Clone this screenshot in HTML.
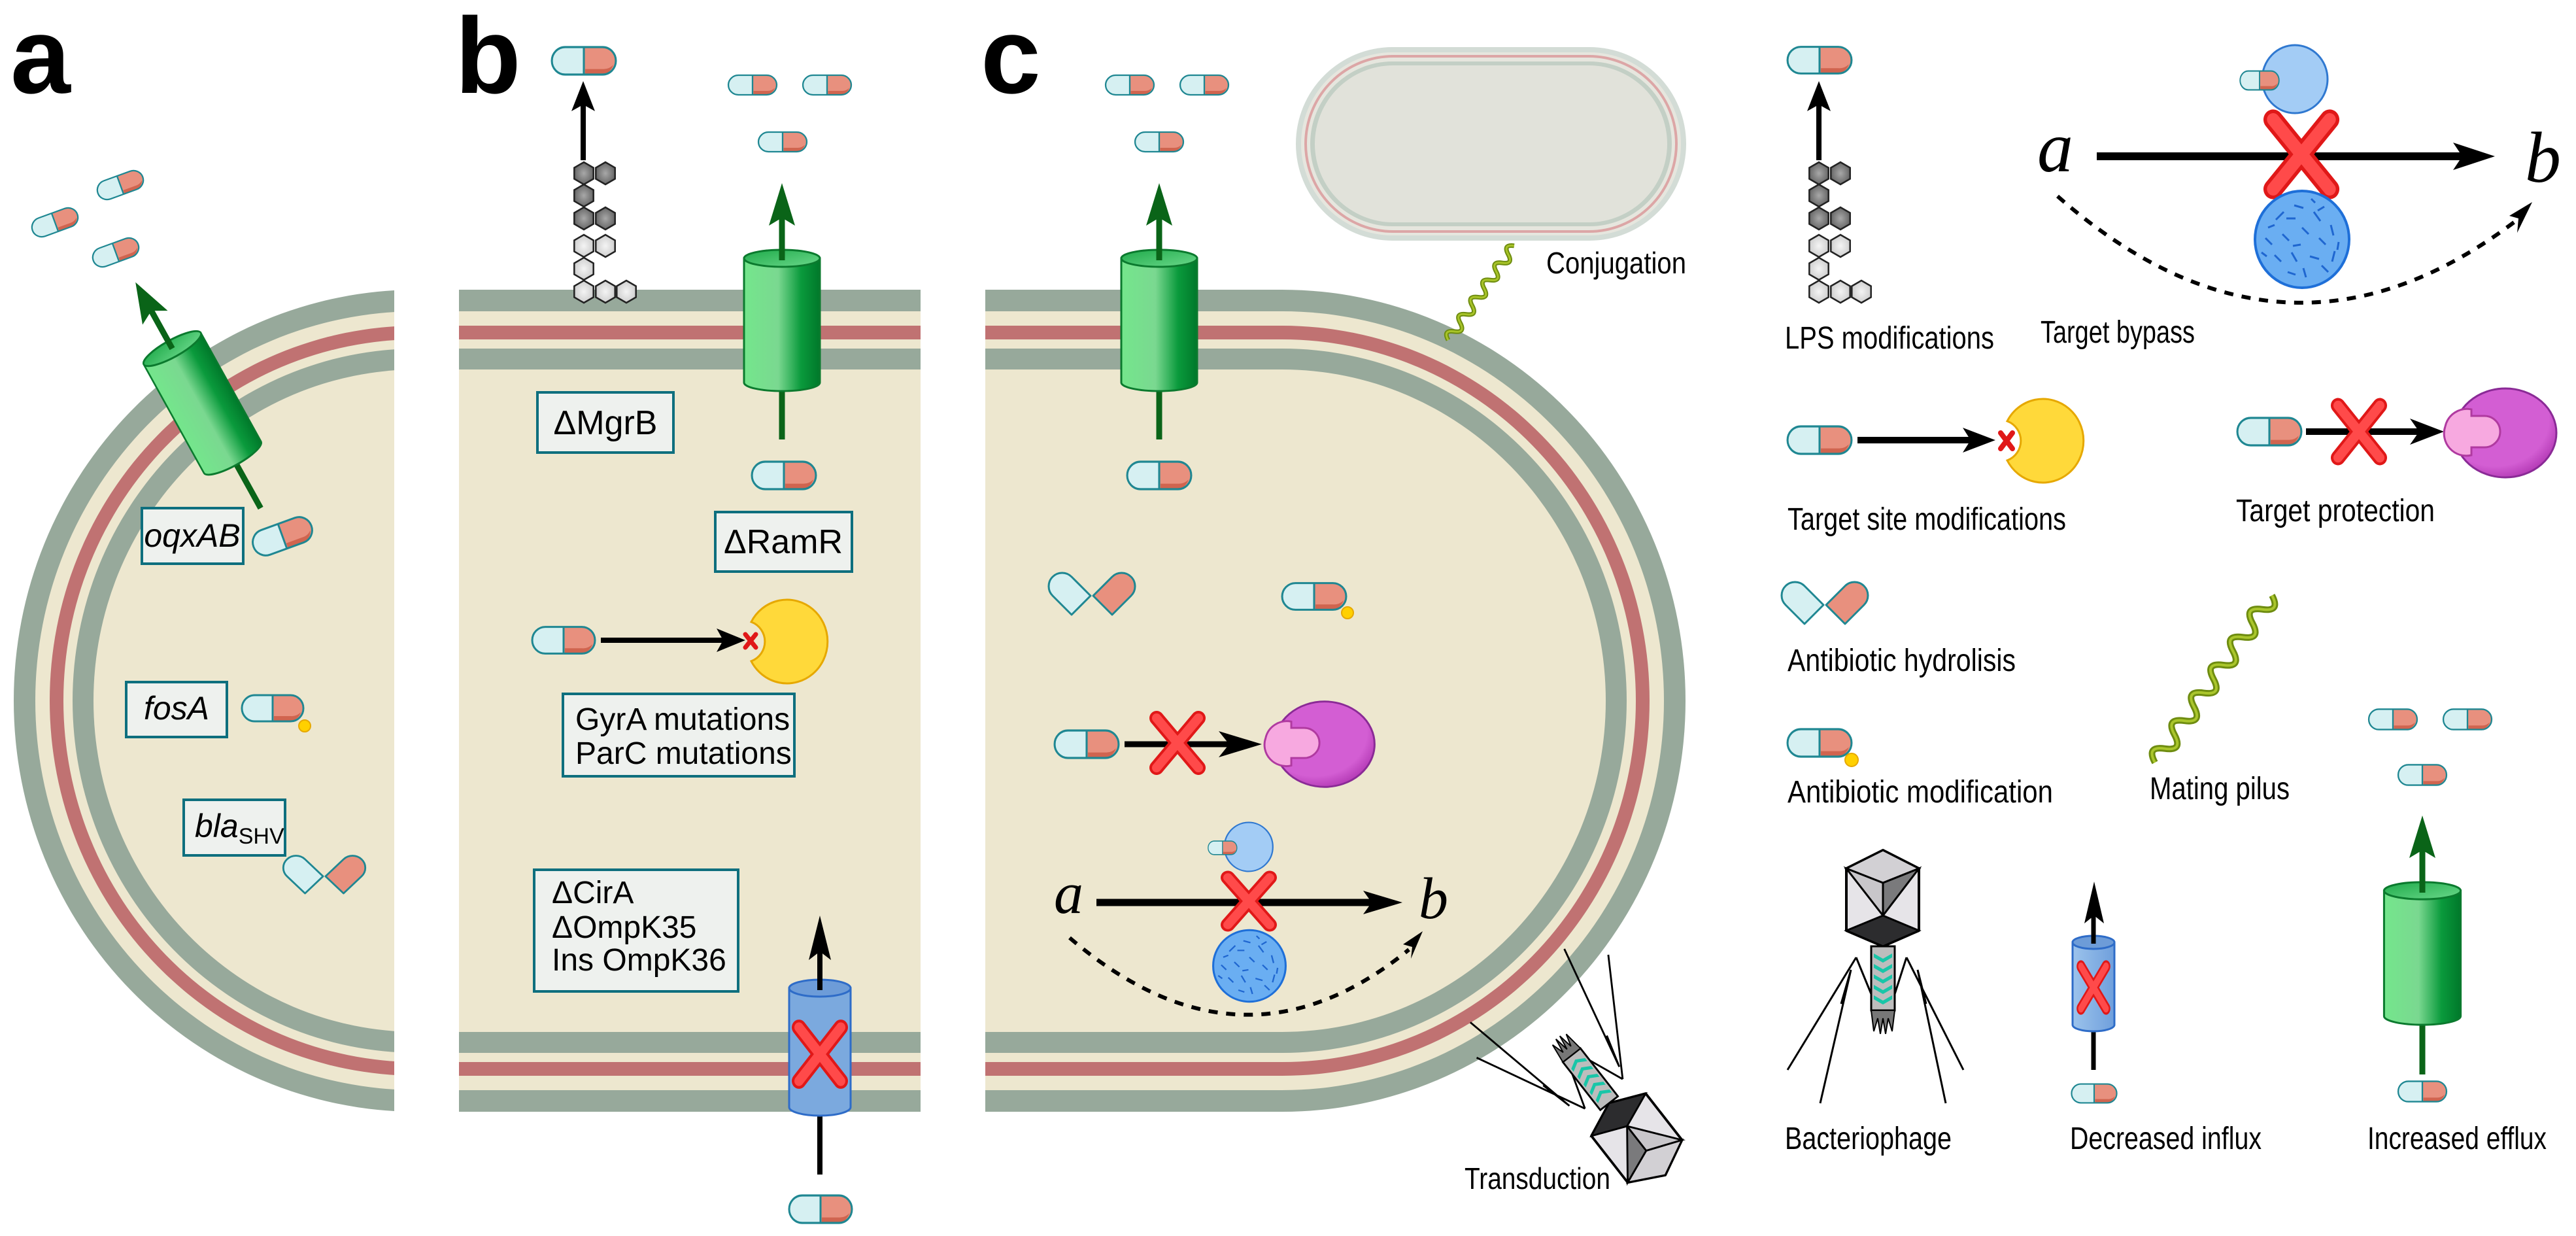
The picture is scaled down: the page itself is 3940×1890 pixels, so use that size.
<!DOCTYPE html>
<html><head><meta charset="utf-8"><style>html,body{margin:0;padding:0;background:#fff}svg{display:block}</style></head>
<body>
<svg width="3940" height="1890" viewBox="0 0 3940 1890" xmlns="http://www.w3.org/2000/svg" font-family="Liberation Sans, sans-serif">
<defs>
<linearGradient id="gg" x1="0" x2="1" y1="0" y2="0"><stop offset="0" stop-color="#74e68c"/><stop offset="0.45" stop-color="#7ad890"/><stop offset="0.75" stop-color="#0a9a3c"/><stop offset="1" stop-color="#00782a"/></linearGradient>
<linearGradient id="gt" x1="0" x2="1" y1="0" y2="1"><stop offset="0" stop-color="#1faa4a"/><stop offset="1" stop-color="#6ad88a"/></linearGradient>
<linearGradient id="bg" x1="0" x2="1"><stop offset="0" stop-color="#9cc3ec"/><stop offset="1" stop-color="#6f9fdc"/></linearGradient>
<radialGradient id="hd" cx="0.5" cy="0.5" r="0.6"><stop offset="0" stop-color="#a8a8a8"/><stop offset="1" stop-color="#5a5a5a"/></radialGradient>
<radialGradient id="hl" cx="0.5" cy="0.5" r="0.6"><stop offset="0" stop-color="#f4f4f4"/><stop offset="1" stop-color="#c8c8c8"/></radialGradient>
<radialGradient id="pg" cx="0.4" cy="0.35" r="0.75"><stop offset="0.7" stop-color="#d35ed3"/><stop offset="1" stop-color="#a62aa8"/></radialGradient>
<clipPath id="clipA"><rect x="0" y="0" width="603" height="1890"/></clipPath>
<g id="pill">
<path d="M0,-20 H-28 A20,20 0 0 0 -28,20 H0Z" fill="#d6f0f2"/>
<path d="M0,-20 H28 A20,20 0 0 1 28,20 H0Z" fill="#e8907e"/>
<path d="M2,12 H28 A20,20 0 0 0 44,6 A20,20 0 0 1 28,20 H2Z" fill="#d0644f"/>
<rect x="-48" y="-20" width="96" height="40" rx="20" fill="none" stroke="#1f8792" stroke-width="3"/>
<line x1="0" y1="-20" x2="0" y2="20" stroke="#1f8792" stroke-width="3"/>
</g>
<g id="hydro">
<path d="M-2,0 L-31,29 L-60,0 A20.5,20.5 0 0 1 -31,-29 Z" fill="#d6f0f2" stroke="#1f8792" stroke-width="3" stroke-linejoin="round"/>
<path d="M2,0 L31,-29 A20.5,20.5 0 0 1 60,0 L31,29 Z" fill="#e8907e" stroke="#1f8792" stroke-width="3" stroke-linejoin="round"/>
</g>
<g id="hex0"><polygon points="0,-17 14.7,-8.5 14.7,8.5 0,17 -14.7,8.5 -14.7,-8.5" fill="url(#hd)" stroke="#222" stroke-width="2.5"/></g>
<g id="hex1"><polygon points="0,-17 14.7,-8.5 14.7,8.5 0,17 -14.7,8.5 -14.7,-8.5" fill="url(#hl)" stroke="#222" stroke-width="2.5"/></g>
<g id="lps">
<use href="#hex0" x="893" y="265"/><use href="#hex0" x="926" y="265"/>
<use href="#hex0" x="893" y="299"/>
<use href="#hex0" x="893" y="334"/><use href="#hex0" x="926" y="334"/>
<use href="#hex1" x="893" y="376"/><use href="#hex1" x="926" y="376"/>
<use href="#hex1" x="893" y="411"/>
<use href="#hex1" x="893" y="446"/><use href="#hex1" x="926" y="446"/><use href="#hex1" x="958" y="446"/>
</g>
<g id="gcyl">
<path d="M-58,0 V190 A58,13 0 0 0 58,190 V0 Z" fill="url(#gg)" stroke="#0b7a2e" stroke-width="3"/>
<ellipse cx="0" cy="0" rx="58" ry="13" fill="url(#gt)" stroke="#0b7a2e" stroke-width="3"/>
</g>
<g id="redx">
<path d="M-32,-38 L32,38 M32,-38 L-32,38" stroke="#e01818" stroke-width="22" stroke-linecap="round"/>
<path d="M-32,-38 L32,38 M32,-38 L-32,38" stroke="#ff4a4a" stroke-width="14" stroke-linecap="round"/>
</g>
<g id="pac">
<path d="M-54,-30 A62,64 0 1 1 -54,30 A32,32 0 0 0 -54,-30Z" fill="#ffd93a" stroke="#e6a800" stroke-width="3"/>
</g>
<g id="purp">
<ellipse cx="52" cy="0" rx="78" ry="68" fill="url(#pg)" stroke="#8a2a96" stroke-width="3"/>
<path d="M-40,-10 A34,34 0 0 1 0,-36 L0,-26 L20,-26 A24,24 0 0 1 20,22 L0,22 L0,34 A34,34 0 0 1 -40,-10Z" fill="#f7a9e0" stroke="#b03aa0" stroke-width="3"/>
</g>
<g id="bprot">
<ellipse cx="20" cy="0" rx="50" ry="52" fill="#a3ccf5" stroke="#2f78d0" stroke-width="3"/>
<use href="#pill" transform="translate(-34,2) scale(0.62,0.72)"/>
</g>
<g id="tex">
<ellipse cx="0" cy="0" rx="72" ry="74" fill="#6aaef2" stroke="#1e6fd8" stroke-width="4"/>
<path d="M-40,-30 l12,-12 M-12,-52 l14,4 M18,-42 l10,14 M44,-22 l4,16 M-56,-2 l10,10 M-30,-8 l10,10 M0,-18 l10,10 M26,-2 l10,10 M50,18 l-4,16 M-42,24 l10,10 M-16,20 l8,14 M12,26 l14,4 M30,40 l10,10 M-22,50 l12,4 M2,44 l4,14 M-52,-18 l10,-4 M14,-62 l6,6 M-24,-32 l14,0 M56,4 l-2,12 M-62,20 l8,6 M-2,8 l-12,2 M34,-50 l-10,6" stroke="#1f66d0" stroke-width="3" fill="none"/>
</g>
<g id="phage">
<polygon points="2880,1300 2935,1328 2935,1423 2880,1447 2824,1423 2824,1328" fill="#e6e4e8" stroke="#000" stroke-width="4" stroke-linejoin="round"/>
<polygon points="2880,1300 2935,1328 2880,1350 2824,1328" fill="#d2d0d4" stroke="#000" stroke-width="3"/>
<polygon points="2880,1400 2935,1328 2880,1350" fill="#7a7a7c" stroke="#000" stroke-width="3"/>
<polygon points="2880,1400 2824,1328 2880,1350" fill="#c8c6ca" stroke="#000" stroke-width="3"/>
<polygon points="2824,1423 2880,1400 2935,1423 2880,1447" fill="#2c2c2e" stroke="#000" stroke-width="3"/>
<rect x="2862" y="1447" width="36" height="98" fill="#bdbdbd" stroke="#000" stroke-width="3"/>
<path d="M2866,1458 l14,8 l14,-8 v6 l-14,8 l-14,-8Z M2866,1474 l14,8 l14,-8 v6 l-14,8 l-14,-8Z M2866,1490 l14,8 l14,-8 v6 l-14,8 l-14,-8Z M2866,1506 l14,8 l14,-8 v6 l-14,8 l-14,-8Z M2866,1522 l14,8 l14,-8 v6 l-14,8 l-14,-8Z" fill="#19c6a8"/>
<path d="M2862,1545 l4,32 l6,-20 l4,24 l4,-24 l4,24 l4,-24 l6,20 l4,-32Z" fill="#777" stroke="#000" stroke-width="2"/>
<path d="M2839,1464 L2734,1636 M2831,1483 L2784,1687 M2916,1464 L3003,1636 M2933,1483 L2976,1687 M2839,1464 L2862,1520 M2916,1464 L2898,1520 M2831,1483 L2816,1535 M2933,1483 L2946,1535" stroke="#000" stroke-width="3" fill="none"/>
</g>
</defs>

<text x="16" y="142" font-size="165" font-weight="bold">a</text>
<text x="696" y="142" font-size="165" font-weight="bold">b</text>
<text x="1500" y="142" font-size="165" font-weight="bold">c</text>

<g clip-path="url(#clipA)">
<ellipse cx="638" cy="1071.5" rx="617" ry="628.5" fill="#97a99b"/>
<ellipse cx="638" cy="1071.5" rx="584" ry="595.5" fill="#ede7cf"/>
<ellipse cx="638" cy="1071.5" rx="562" ry="573.5" fill="#c07272"/>
<ellipse cx="638" cy="1071.5" rx="541" ry="552.5" fill="#ede7cf"/>
<ellipse cx="638" cy="1071.5" rx="527" ry="538.5" fill="#97a99b"/>
<ellipse cx="638" cy="1071.5" rx="495" ry="506.5" fill="#ede7cf"/>
</g>
<rect x="702" y="443" width="706" height="1257" fill="#97a99b"/>
<rect x="702" y="476" width="706" height="22" fill="#ede7cf"/>
<rect x="702" y="498" width="706" height="21" fill="#c07272"/>
<rect x="702" y="519" width="706" height="14" fill="#ede7cf"/>
<rect x="702" y="565" width="706" height="1013" fill="#ede7cf"/>
<rect x="702" y="1610" width="706" height="14" fill="#ede7cf"/>
<rect x="702" y="1624" width="706" height="21" fill="#c07272"/>
<rect x="702" y="1645" width="706" height="22" fill="#ede7cf"/>
<path d="M1507,443 H1961 A617,628.5 0 0 1 1961,1700 H1507Z" fill="#97a99b"/>
<path d="M1507,476 H1961 A584,595.5 0 0 1 1961,1667 H1507Z" fill="#ede7cf"/>
<path d="M1507,498 H1961 A562,573.5 0 0 1 1961,1645 H1507Z" fill="#c07272"/>
<path d="M1507,519 H1961 A541,552.5 0 0 1 1961,1624 H1507Z" fill="#ede7cf"/>
<path d="M1507,533 H1961 A527,538.5 0 0 1 1961,1610 H1507Z" fill="#97a99b"/>
<path d="M1507,565 H1961 A495,506.5 0 0 1 1961,1578 H1507Z" fill="#ede7cf"/>

<rect x="1982" y="72" width="597" height="296" rx="148" fill="#d3dcd6"/>
<rect x="1990" y="80" width="581" height="280" rx="140" fill="#e6e6de"/>
<rect x="1997" y="86" width="567" height="268" rx="134" fill="none" stroke="#dca6a6" stroke-width="4"/>
<rect x="2004" y="94" width="553" height="252" rx="126" fill="#c3cfc5"/>
<rect x="2011" y="100" width="539" height="240" rx="120" fill="#e1e2da"/>
<g transform="translate(2215,520) rotate(-55)">
<path d="M0,0 q8,-16 16,0 t16,0 t16,0 t16,0 t16,0 t16,0 t16,0 t16,0 t16,0 t16,0 t16,0" fill="none" stroke="#6e8c10" stroke-width="7"/>
<path d="M0,0 q8,-16 16,0 t16,0 t16,0 t16,0 t16,0 t16,0 t16,0 t16,0 t16,0 t16,0 t16,0" fill="none" stroke="#a8c428" stroke-width="3"/>
</g>
<text x="2365" y="418" font-size="46" textLength="214" lengthAdjust="spacingAndGlyphs">Conjugation</text>

<use href="#pill" transform="translate(84,340) rotate(-20) scale(0.76,0.74)"/>
<use href="#pill" transform="translate(184,283) rotate(-20) scale(0.76,0.74)"/>
<use href="#pill" transform="translate(177,386) rotate(-20) scale(0.76,0.74)"/>
<g transform="translate(310,617) rotate(-29)">
<line x1="0" y1="183" x2="0" y2="-160" stroke="#0a6418" stroke-width="9"/>
<use href="#gcyl" transform="translate(0,-96) scale(0.86,1)"/>
<line x1="0" y1="-96" x2="0" y2="-165" stroke="#0a6418" stroke-width="9"/>
<polygon points="0,-212 -22,-150 0,-162 22,-150" fill="#0a6418"/>
</g>
<rect x="217" y="777" width="155" height="85" fill="#eef1ee" stroke="#0e6f7e" stroke-width="4"/>
<text x="294" y="836" font-size="50" font-style="italic" text-anchor="middle">oqxAB</text>
<use href="#pill" transform="translate(432,820) rotate(-20) scale(0.98,1)"/>
<rect x="193" y="1043" width="154" height="84" fill="#eef1ee" stroke="#0e6f7e" stroke-width="4"/>
<text x="270" y="1100" font-size="50" font-style="italic" text-anchor="middle">fosA</text>
<use href="#pill" transform="translate(417,1083) scale(0.98,1)"/>
<circle cx="466" cy="1110" r="9" fill="#ffd000" stroke="#e6a800" stroke-width="2"/>
<rect x="281" y="1223" width="155" height="85" fill="#eef1ee" stroke="#0e6f7e" stroke-width="4"/>
<text x="298" y="1280" font-size="50"><tspan font-style="italic">bla</tspan><tspan font-size="34" dy="10">SHV</tspan></text>
<use href="#hydro" transform="translate(496,1340) scale(0.95,0.9)"/>

<use href="#pill" transform="translate(893,93) scale(1.02,1.05)"/>
<line x1="892" y1="245" x2="892" y2="160" stroke="#000" stroke-width="8"/>
<polygon points="892,124 874,170 892,160 910,170" fill="#000"/>
<use href="#lps"/>
<rect x="822" y="600" width="208" height="92" fill="#eef1ee" stroke="#0e6f7e" stroke-width="4"/>
<text x="926" y="664" font-size="52" text-anchor="middle">ΔMgrB</text>
<use href="#pill" transform="translate(1151,130) scale(0.77,0.75)"/>
<use href="#pill" transform="translate(1265,130) scale(0.77,0.75)"/>
<use href="#pill" transform="translate(1197,217) scale(0.77,0.75)"/>
<line x1="1196" y1="672" x2="1196" y2="330" stroke="#0a6418" stroke-width="9"/>
<use href="#gcyl" transform="translate(1196,395)"/>
<line x1="1196" y1="398" x2="1196" y2="335" stroke="#0a6418" stroke-width="9"/>
<polygon points="1196,280 1176,345 1196,333 1216,345" fill="#0a6418"/>
<use href="#pill" transform="translate(1199,727) scale(1.02,1.05)"/>
<rect x="1094" y="783" width="209" height="91" fill="#eef1ee" stroke="#0e6f7e" stroke-width="4"/>
<text x="1198" y="846" font-size="52" text-anchor="middle">ΔRamR</text>
<use href="#pill" transform="translate(862,979) scale(1,1.02)"/>
<line x1="919" y1="979" x2="1110" y2="979" stroke="#000" stroke-width="8"/>
<polygon points="1140,979 1096,961 1106,979 1096,997" fill="#000"/>
<use href="#pac" transform="translate(1203,981)"/>
<path d="M1140,970 L1156,990 M1156,970 L1140,990" stroke="#e01818" stroke-width="7" stroke-linecap="round"/>
<rect x="861" y="1061" width="354" height="126" fill="#eef1ee" stroke="#0e6f7e" stroke-width="4"/>
<text x="880" y="1116" font-size="48">GyrA mutations</text>
<text x="880" y="1168" font-size="48">ParC mutations</text>
<rect x="817" y="1330" width="312" height="186" fill="#eef1ee" stroke="#0e6f7e" stroke-width="4"/>
<text x="844" y="1381" font-size="48">ΔCirA</text>
<text x="844" y="1434" font-size="48">ΔOmpK35</text>
<text x="844" y="1484" font-size="48">Ins OmpK36</text>
<line x1="1254" y1="1796" x2="1254" y2="1440" stroke="#000" stroke-width="8"/>
<path d="M1207,1511 V1693 A47,13 0 0 0 1301,1693 V1511Z" fill="#7ba9de" stroke="#2e6cc8" stroke-width="3"/>
<ellipse cx="1254" cy="1511" rx="47" ry="13" fill="#6d9cd8" stroke="#2e6cc8" stroke-width="3"/>
<line x1="1254" y1="1514" x2="1254" y2="1440" stroke="#000" stroke-width="8"/>
<polygon points="1254,1400 1237,1468 1254,1455 1271,1468" fill="#000"/>
<use href="#redx" transform="translate(1254,1612) scale(1,1.08)"/>
<use href="#pill" transform="translate(1255,1849) scale(1,1.05)"/>

<use href="#pill" transform="translate(1728,130) scale(0.77,0.75)"/>
<use href="#pill" transform="translate(1842,130) scale(0.77,0.75)"/>
<use href="#pill" transform="translate(1773,217) scale(0.77,0.75)"/>
<line x1="1773" y1="672" x2="1773" y2="330" stroke="#0a6418" stroke-width="9"/>
<use href="#gcyl" transform="translate(1773,395)"/>
<line x1="1773" y1="398" x2="1773" y2="335" stroke="#0a6418" stroke-width="9"/>
<polygon points="1773,280 1753,345 1773,333 1793,345" fill="#0a6418"/>
<use href="#pill" transform="translate(1773,727) scale(1.02,1.05)"/>
<use href="#hydro" transform="translate(1670,911)"/>
<use href="#pill" transform="translate(2010,912) scale(1.02,1.02)"/>
<circle cx="2061" cy="937" r="9" fill="#ffd000" stroke="#e6a800" stroke-width="2"/>
<use href="#pill" transform="translate(1662,1138) scale(1.02,1.05)"/>
<line x1="1720" y1="1138" x2="1890" y2="1138" stroke="#000" stroke-width="9"/>
<polygon points="1930,1138 1864,1118 1880,1138 1864,1158" fill="#000"/>
<use href="#redx" transform="translate(1801,1136)"/>
<use href="#purp" transform="translate(1975,1138) scale(0.98,0.96)"/>
<use href="#bprot" transform="translate(1895,1295) scale(0.74,0.72)"/>
<text x="1612" y="1396" font-size="90" font-style="italic" font-family="Liberation Serif, serif">a</text>
<line x1="1677" y1="1380" x2="2105" y2="1380" stroke="#000" stroke-width="11"/>
<polygon points="2145,1380 2085,1362 2098,1380 2085,1398" fill="#000"/>
<text x="2170" y="1404" font-size="90" font-style="italic" font-family="Liberation Serif, serif">b</text>
<use href="#redx" transform="translate(1910,1378) scale(1,0.95)"/>
<use href="#tex" transform="translate(1911,1477) scale(0.77,0.74)"/>
<path d="M1636,1434 Q1900,1660 2155,1452" fill="none" stroke="#000" stroke-width="6" stroke-dasharray="14 13"/>
<polygon points="2176,1424 2146,1444 2160,1448 2158,1466" fill="#000"/>

<g transform="translate(2505,1743) rotate(142) scale(0.95) translate(-2880,-1372)"><use href="#phage"/></g>
<text x="2240" y="1818" font-size="46" textLength="223" lengthAdjust="spacingAndGlyphs">Transduction</text>

<use href="#pill" transform="translate(2783,92) scale(1.02,1.02)"/>
<line x1="2782" y1="245" x2="2782" y2="160" stroke="#000" stroke-width="8"/>
<polygon points="2782,124 2764,170 2782,160 2800,170" fill="#000"/>
<use href="#lps" transform="translate(1889,0)"/>
<text x="2730" y="533" font-size="48" textLength="320" lengthAdjust="spacingAndGlyphs">LPS modifications</text>

<use href="#bprot" transform="translate(3490,121) scale(1,1)"/>
<text x="3116" y="262" font-size="110" font-style="italic" font-family="Liberation Serif, serif">a</text>
<line x1="3207" y1="239" x2="3770" y2="239" stroke="#000" stroke-width="12"/>
<polygon points="3816,239 3752,218 3766,239 3752,260" fill="#000"/>
<text x="3862" y="278" font-size="110" font-style="italic" font-family="Liberation Serif, serif">b</text>
<use href="#redx" transform="translate(3520,236) scale(1.35,1.4)"/>
<use href="#tex" transform="translate(3521,366)"/>
<path d="M3147,300 Q3500,610 3858,330" fill="none" stroke="#000" stroke-width="6" stroke-dasharray="14 13"/>
<polygon points="3873,309 3838,330 3852,334 3850,356" fill="#000"/>
<text x="3121" y="524" font-size="48" textLength="236" lengthAdjust="spacingAndGlyphs">Target bypass</text>

<use href="#pill" transform="translate(2783,673) scale(1.02,1.05)"/>
<line x1="2841" y1="673" x2="3015" y2="673" stroke="#000" stroke-width="10"/>
<polygon points="3052,673 3002,654 3014,673 3002,692" fill="#000"/>
<use href="#pac" transform="translate(3124,674)"/>
<path d="M3060,662 L3078,686 M3078,662 L3060,686" stroke="#e01818" stroke-width="8" stroke-linecap="round"/>
<text x="2734" y="810" font-size="48" textLength="426" lengthAdjust="spacingAndGlyphs">Target site modifications</text>

<use href="#pill" transform="translate(3471,660) scale(1.02,1.05)"/>
<line x1="3527" y1="660" x2="3700" y2="660" stroke="#000" stroke-width="10"/>
<polygon points="3738,660 3686,640 3700,660 3686,680" fill="#000"/>
<use href="#redx" transform="translate(3608,660) scale(1,1.05)"/>
<use href="#purp" transform="translate(3780,662)"/>
<text x="3420" y="797" font-size="48" textLength="304" lengthAdjust="spacingAndGlyphs">Target protection</text>

<use href="#hydro" transform="translate(2791,925)"/>
<text x="2734" y="1026" font-size="48" textLength="349" lengthAdjust="spacingAndGlyphs">Antibiotic hydrolisis</text>
<use href="#pill" transform="translate(2783,1136) scale(1.02,1.05)"/>
<circle cx="2832" cy="1162" r="10" fill="#ffd000" stroke="#e6a800" stroke-width="2"/>
<text x="2734" y="1227" font-size="48" textLength="406" lengthAdjust="spacingAndGlyphs">Antibiotic modification</text>

<g transform="translate(3296,1166) rotate(-55)">
<path d="M0,0 q13,-26 26,0 t26,0 t26,0 t26,0 t26,0 t26,0 t26,0 t26,0 t26,0 t26,0 t26,0 t26,0" fill="none" stroke="#6e8c10" stroke-width="10"/>
<path d="M0,0 q13,-26 26,0 t26,0 t26,0 t26,0 t26,0 t26,0 t26,0 t26,0 t26,0 t26,0 t26,0 t26,0" fill="none" stroke="#aac62c" stroke-width="4"/>
</g>
<text x="3288" y="1222" font-size="48" textLength="214" lengthAdjust="spacingAndGlyphs">Mating pilus</text>

<use href="#phage"/>
<text x="2730" y="1757" font-size="48" textLength="255" lengthAdjust="spacingAndGlyphs">Bacteriophage</text>

<line x1="3202" y1="1636" x2="3202" y2="1390" stroke="#000" stroke-width="7"/>
<path d="M3170,1441 V1567 A32,10 0 0 0 3234,1567 V1441Z" fill="url(#bg)" stroke="#2e6cc8" stroke-width="3"/>
<ellipse cx="3202" cy="1441" rx="32" ry="10" fill="#6d9cd8" stroke="#2e6cc8" stroke-width="3"/>
<line x1="3202" y1="1443" x2="3202" y2="1390" stroke="#000" stroke-width="7"/>
<polygon points="3203,1348 3188,1412 3203,1400 3218,1412" fill="#000"/>
<use href="#redx" transform="translate(3202,1510) scale(0.6,0.85)"/>
<use href="#pill" transform="translate(3203,1672) scale(0.72,0.72)"/>
<text x="3166" y="1757" font-size="48" textLength="293" lengthAdjust="spacingAndGlyphs">Decreased influx</text>

<use href="#pill" transform="translate(3660,1100) scale(0.77,0.78)"/>
<use href="#pill" transform="translate(3774,1100) scale(0.77,0.78)"/>
<use href="#pill" transform="translate(3705,1185) scale(0.77,0.78)"/>
<line x1="3705" y1="1643" x2="3705" y2="1295" stroke="#0a6418" stroke-width="9"/>
<use href="#gcyl" transform="translate(3705,1362) scale(1.01,1.01)"/>
<line x1="3705" y1="1365" x2="3705" y2="1300" stroke="#0a6418" stroke-width="9"/>
<polygon points="3705,1247 3685,1312 3705,1300 3725,1312" fill="#0a6418"/>
<use href="#pill" transform="translate(3705,1669) scale(0.77,0.78)"/>
<text x="3621" y="1757" font-size="48" textLength="274" lengthAdjust="spacingAndGlyphs">Increased efflux</text>
</svg>
</body></html>
